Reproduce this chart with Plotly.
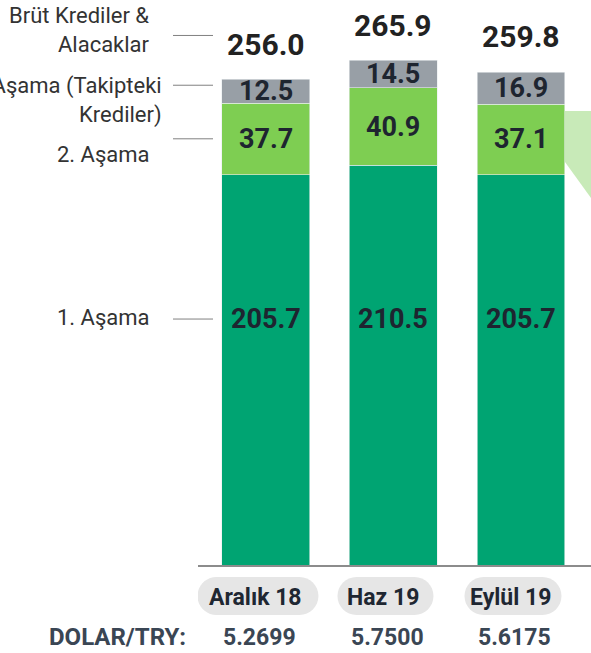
import plotly.graph_objects as go

categories = ["Aralık 18", "Haz 19", "Eylül 19"]
stage1 = [205.7, 210.5, 205.7]
stage2 = [37.7, 40.9, 37.1]
stage3 = [12.5, 14.5, 16.9]
totals = [256.0, 265.9, 259.8]
usd_try = ["5.2699", "5.7500", "5.6175"]
series_names = ["1. Aşama", "2. Aşama", "3. Aşama (Takipteki Krediler)"]

C1 = "#00A472"
C2 = "#7ECE52"
C3 = "#989FA6"
TXT = "#1E2530"
FONT = "Roboto, Liberation Sans, Arial"

W, H = 591, 653
ML, MB = 198, 88
PLOT_H = H - MB  # baseline pixel row
YMAX = PLOT_H / 1.898
XR = [-0.533, 2.549]


def py(p):
    """pixel row -> paper y"""
    return (PLOT_H - p) / PLOT_H


def px(p):
    """pixel column -> paper x"""
    return (p - ML) / (W - ML)


x = list(range(len(categories)))
fig = go.Figure()
for vals, col, name in zip([stage1, stage2, stage3], [C1, C2, C3], series_names):
    fig.add_trace(go.Bar(x=x, y=vals, name=name, marker=dict(color=col, line=dict(width=0.6, color="#E8ECEF")),
                         width=0.69, hoverinfo="y+name"))

ann = []
bold = dict(family=FONT, size=27, color=TXT)
row1 = min(stage1) * 0.63
for i in x:
    ann.append(dict(x=i, y=row1, text=f"<b>{stage1[i]:.1f}</b>", showarrow=False, font=bold, yanchor="middle"))
    ann.append(dict(x=i, y=stage1[i] + stage2[i] / 2, text=f"<b>{stage2[i]:.1f}</b>", showarrow=False, font=bold, yanchor="middle"))
    ann.append(dict(x=i, y=stage1[i] + stage2[i] + stage3[i] / 2, text=f"<b>{stage3[i]:.1f}</b>", showarrow=False,
                    font=bold, yanchor="middle"))
    ann.append(dict(x=i, y=totals[i], yshift=35, text=f"<b>{totals[i]:.1f}</b>", showarrow=False, yanchor="middle",
                    font=dict(family=FONT, size=30, color="#222222")))
    # category pill labels
    ann.append(dict(x=i, xshift=-10, y=py(597), yref="paper", yanchor="middle", text=f"<b>{categories[i]}</b>",
                    showarrow=False, font=dict(family=FONT, size=23, color="#1F2732")))
    ann.append(dict(x=i, xshift=-6, y=py(637), yref="paper", yanchor="middle", text=f"<b>{usd_try[i]}</b>",
                    showarrow=False, font=dict(family=FONT, size=23, color="#3A4654")))

ann.append(dict(x=px(188), xref="paper", xanchor="right", y=py(637), yref="paper", yanchor="middle",
                text="<b>DOLAR/TRY:</b>", showarrow=False, font=dict(family=FONT, size=24, color="#3A4654")))

left_labels = [("Brüt Krediler &<br>Alacaklar", 30, 152), ("3. Aşama (Takipteki<br>Krediler)", 100, 164),
               ("2. Aşama", 154, 152), ("1. Aşama", 317, 152)]
for t, p, xr in left_labels:
    ann.append(dict(x=px(xr), xref="paper", xanchor="right", y=py(p), yref="paper", yanchor="middle", text=t,
                    align="right", showarrow=False, font=dict(family=FONT, size=22, color="#333333")))

shapes = []
# leader lines
leader_y = [totals[0] + 23, stage1[0] + stage2[0] + stage3[0] * 0.75, stage1[0] + stage2[0] / 2, row1]
for ly in leader_y:
    shapes.append(dict(type="line", xref="paper", yref="y", x0=px(173), x1=px(213), y0=ly, y1=ly,
                       line=dict(color="#808080", width=1)))

# rounded pills behind category labels
pill_w = [121, 96, 97]
r = 19
k = 0.5523 * r
for i in x:
    w = pill_w[i]
    a = w / 2 - r
    path = (f"M {-a},{-r} L {a},{-r} C {a + k},{-r} {a + r},{-k} {a + r},0 C {a + r},{k} {a + k},{r} {a},{r} "
            f"L {-a},{r} C {-a - k},{r} {-a - r},{k} {-a - r},0 C {-a - r},{-k} {-a - k},{-r} {-a},{-r} Z")
    shapes.append(dict(type="path", xref="x", yref="paper", xsizemode="pixel", ysizemode="pixel",
                       xanchor=i - 8 / 127.5, yanchor=py(596), path=path, fillcolor="#E6E6E6",
                       line=dict(width=0), layer="below"))

# light green callout on the right
shapes.append(dict(type="path", xref="x", yref="y",
                   path="M 2.345,239.2 L 2.8,239.2 L 2.8,170 L 2.345,212.3 Z",
                   fillcolor="#C8EAB8", line=dict(width=0), layer="below"))

fig.update_layout(
    width=W, height=H, barmode="stack", showlegend=False,
    margin=dict(l=ML, r=0, t=0, b=MB, pad=0),
    paper_bgcolor="white", plot_bgcolor="white",
    xaxis=dict(range=XR, showticklabels=False, showgrid=False, zeroline=False, showline=True,
               linecolor="#8C8C8C", linewidth=2, ticks="", fixedrange=True),
    yaxis=dict(range=[0, YMAX], visible=False, fixedrange=True),
    annotations=ann, shapes=shapes,
    font=dict(family=FONT),
)
fig.write_html("out.html", config={"displayModeBar": False},
               post_script="document.body.style.margin='0';document.body.style.overflow='hidden';")
